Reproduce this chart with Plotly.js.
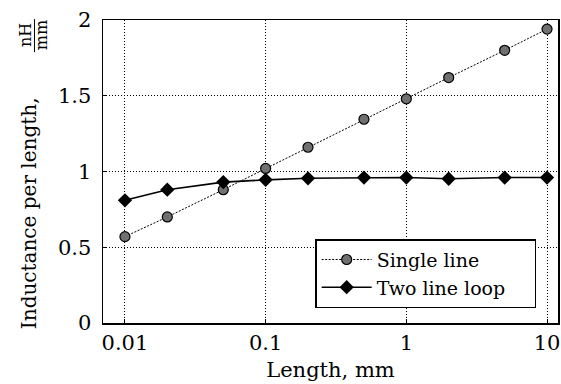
<!DOCTYPE html>
<html><head><meta charset="utf-8">
<script src="https://cdn.plot.ly/plotly-3.0.1.min.js"></script>
<style>html,body{margin:0;padding:0;background:#fff}#c{width:561px;height:384px}</style>
</head><body><div id="c"></div>
<script>
const lengths = [0.01, 0.02, 0.05, 0.1, 0.2, 0.5, 1, 2, 5, 10];
const singleLine = [0.57, 0.70, 0.88, 1.02, 1.16, 1.345, 1.48, 1.62, 1.80, 1.94];
const twoLineLoop = [0.81, 0.88, 0.93, 0.945, 0.955, 0.96, 0.96, 0.952, 0.96, 0.96];
const xTicks = [0.01, 0.1, 1, 10];
const xTickText = ['0.01', '0.1', '1', '10'];
const yTicks = [0, 0.5, 1, 1.5, 2];
const yTickText = ['0', '0.5', '1', '1.5', '2'];

const F = "'DejaVu Serif', 'Liberation Serif', serif";
const traces = [
  {x: lengths, y: singleLine, name: 'Single line\u00a0\u00a0\u00a0\u00a0\u00a0', mode: 'lines+markers',
   line: {color: '#000', width: 1, dash: '2px,1.5px'},
   marker: {symbol: 'circle', size: 10, color: '#707070', line: {color: '#000', width: 1.2}}},
  {x: lengths, y: twoLineLoop, name: 'Two line loop\u00a0\u00a0\u00a0\u00a0', mode: 'lines+markers',
   line: {color: '#000', width: 1.6},
   marker: {symbol: 'diamond', size: 11, color: '#000'}}
];
const grid = {showgrid: true, gridcolor: '#000', gridwidth: 1, griddash: '1px,2px'};
const layout = {
  width: 561, height: 384,
  margin: {l: 103, r: 3, t: 20, b: 61},
  paper_bgcolor: '#fff', plot_bgcolor: '#fff',
  font: {family: F, color: '#000', size: 21},
  showlegend: true,
  legend: {x: 0.952, y: 0.049, xanchor: 'right', yanchor: 'bottom',
    bordercolor: '#000', borderwidth: 1.5, bgcolor: '#fff',
    font: {family: F, size: 19}, itemwidth: 50, tracegroupgap: 0},
  xaxis: Object.assign({type: 'log', range: [-2.156, 1.078], tickvals: xTicks, ticktext: xTickText,
    showline: true, mirror: true, linecolor: '#000', linewidth: 1.5,
    ticks: 'inside', ticklen: 4, tickcolor: '#000', zeroline: false,
    title: {text: 'Length, mm', font: {size: 21}, standoff: 8}}, grid),
  yaxis: Object.assign({range: [0, 2], tickvals: yTicks, ticktext: yTickText,
    showline: true, mirror: true, linecolor: '#000', linewidth: 1.5,
    ticks: 'inside', ticklen: 4, tickcolor: '#000', zeroline: false, ticklabelstandoff: 6}, grid),
  annotations: [
    {xref: 'paper', yref: 'paper', x: -0.163, y: 0.362, xanchor: 'center', yanchor: 'middle',
     text: 'Inductance per length,', textangle: -90, showarrow: false, font: {size: 20}},
    {xref: 'paper', yref: 'paper', x: -0.1715, y: 0.95, xanchor: 'center', yanchor: 'middle',
     text: 'nH', textangle: -90, showarrow: false, font: {size: 16}},
    {xref: 'paper', yref: 'paper', x: -0.136, y: 0.95, xanchor: 'center', yanchor: 'middle',
     text: 'mm', textangle: -90, showarrow: false, font: {size: 16}}
  ],
  shapes: [
    {type: 'line', xref: 'paper', yref: 'paper', x0: -0.1506, x1: -0.1506, y0: 0.894, y1: 1.003,
     line: {color: '#000', width: 1}}
  ]
};
Plotly.newPlot('c', traces, layout, {displayModeBar: false, staticPlot: true});
</script></body></html>
